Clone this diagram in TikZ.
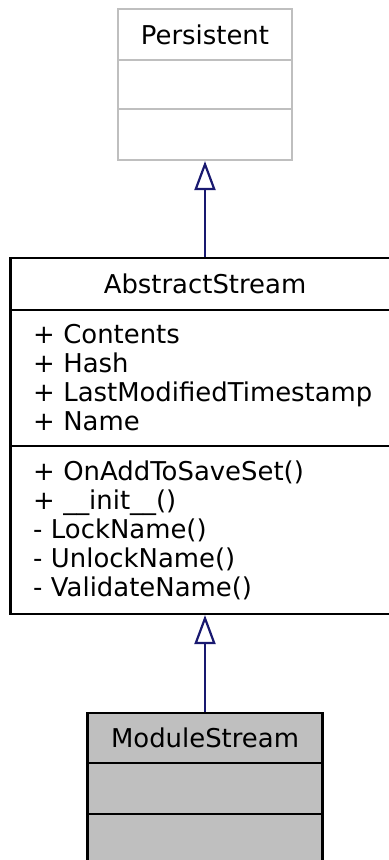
\documentclass[tikz,border=0pt]{standalone}
\usepackage{fontspec}
\setmainfont{DejaVu Sans}
\usetikzlibrary{arrows.meta}
\definecolor{midnight}{HTML}{191970}

\begin{document}
\begin{tikzpicture}[x=0.5pt, y=-0.5pt, every node/.style={font=\fontsize{12.95}{14.5}\selectfont}]
  \tikzstyle{cell}=[draw, line width=1.1pt, inner sep=0pt, minimum height=25pt]
  \tikzstyle{basecell}=[cell, draw=gray!50, minimum width=87pt]
  \tikzstyle{abscell}=[cell, minimum width=194.5pt]
  \tikzstyle{listcell}=[cell, text width=172pt, inner xsep=11.25pt, align=left]
  \tikzstyle{modcell}=[cell, fill=gray!50, minimum width=117.5pt]
  \tikzstyle{inherit}=[draw=midnight, line width=1.1pt, -{Triangle[open, length=14.5pt, width=10.5pt, fill=white]}]
  \useasboundingbox (0, 0) rectangle (388, 860);
  % Persistent
  \node[basecell, minimum height=25.5pt] (pt) at (205, 34.5) {Persistent};
  \node[basecell, minimum height=24.5pt] (pa) at (205, 84.5) {};
  \node[basecell, minimum height=25.5pt] (pm) at (205, 134.5) {};
  % AbstractStream
  \node[abscell, minimum height=26pt] (at) at (205, 284) {AbstractStream};
  \node[listcell, minimum height=68pt] (aa) at (205, 378) {+ Contents\\+ Hash\\+ LastModifiedTimestamp\\+ Name};
  \node[listcell, minimum height=84pt] (am) at (205, 530) {+ OnAddToSaveSet()\\+ \_\_init\_\_()\\- LockName()\\- UnlockName()\\- ValidateName()};
  % ModuleStream
  \node[modcell, minimum height=25pt] (mt) at (205, 738) {ModuleStream};
  \node[modcell, minimum height=25.5pt] (ma) at (205, 788.5) {};
  \node[modcell, minimum height=25.5pt] (mm) at (205, 839.5) {};
  \draw[inherit] (at.north) -- (pm.south);
  \draw[inherit] (mt.north) -- (am.south);
\end{tikzpicture}
\end{document}
